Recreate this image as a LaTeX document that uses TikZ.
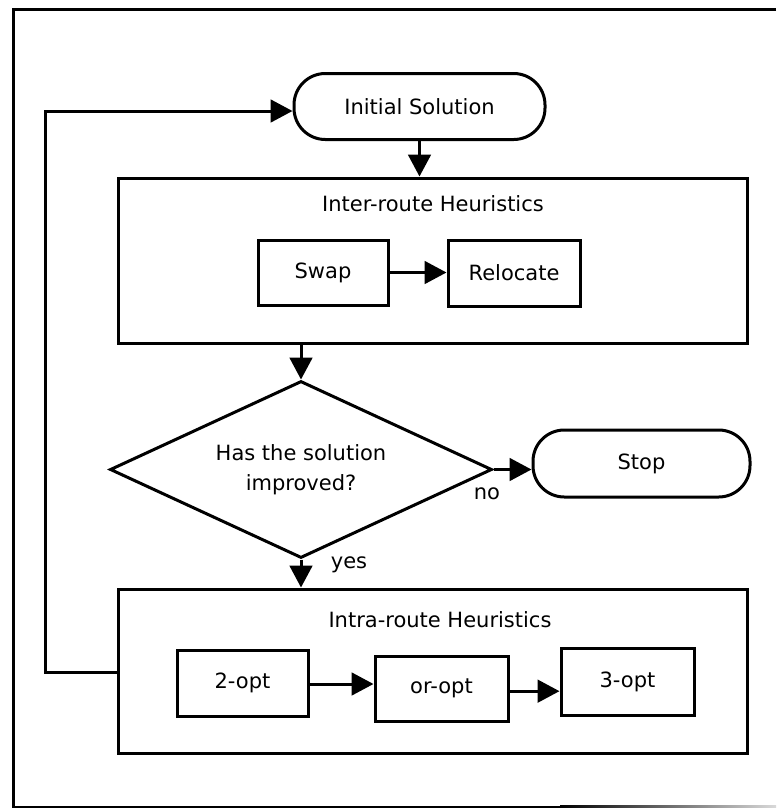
\documentclass[tikz,border=0pt]{standalone}
\usepackage{fontspec}
\setmainfont{DejaVu Sans}
\usetikzlibrary{shapes.geometric,arrows.meta}
\begin{document}
\begin{tikzpicture}[x=0.75pt,y=-0.75pt,
  line width=2.25pt,
  every node/.style={font=\fontsize{15.75pt}{22pt}\selectfont, inner sep=0pt},
  box/.style={draw, rectangle, minimum width=#1},
  term/.style={draw, rectangle, rounded corners=23.5pt, minimum width=#1, minimum height=49.5pt},
  decision/.style={draw, diamond, aspect=2.16, minimum width=286.5pt, minimum height=132.75pt, align=center,
                   font=\fontsize{15.75pt}{22.5pt}\selectfont},
  flow/.style={-{Triangle[length=16.5pt,width=17pt]}},
  caption/.style={anchor=center}]
\useasboundingbox (0,0) rectangle (776,808);

% page frame (right side open, bottom edge fading out)
\draw[line width=2.25pt] (776,9.5) -- (13.5,9.5) -- (13.5,807) -- (560,807);
\shade[left color=black, right color=black!15] (560,805.5) rectangle (776,808.5);

% start / stop terminals
\node[term=188.25pt] (init) at (419.5,106.5) {Initial Solution};
\node[term=162.75pt, minimum height=50.25pt] (stop) at (641.5,463.5) {Stop};

% inter-route block
\node[box=471.75pt, minimum height=123.75pt] (inter) at (432.5,260.5) {};
\node[caption] (intertitle) at (433,204) {Inter-route Heuristics};
\node[box=97.5pt, minimum height=48.75pt] (swap) at (323,272.5) {Swap};
\node[box=99pt, minimum height=49.5pt] (reloc) at (514,273) {Relocate};

% decision
\node[decision] (dia) at (301,469.5) {Has the solution\\improved?};

% intra-route block
\node[box=471.75pt, minimum height=123pt] (intra) at (432.5,671) {};
\node[caption] (intratitle) at (440,620) {Intra-route Heuristics};
\node[box=98.25pt, minimum height=49.5pt] (two) at (242.5,683) {2-opt};
\node[box=99.75pt, minimum height=48.75pt] (oropt) at (441.5,688.5) {or-opt};
\node[box=99.75pt, minimum height=50.25pt] (three) at (627.5,681.5) {3-opt};

% connectors
\draw[flow] (init.south) -- (init.south |- inter.north);
\draw[flow] (swap.east) -- (reloc.west |- swap.east);
\draw[flow] (dia.north |- inter.south) -- (dia.north);
\draw[flow] (dia.east) -- (stop.west |- dia.east);
\draw[flow] (dia.south) -- (dia.south |- intra.north);
\draw[flow] ([yshift=-0.75pt]two.east) -- ([yshift=-0.75pt]two.east -| oropt.west);
\draw[flow] ([yshift=-2pt]oropt.east) -- ([yshift=-2pt]oropt.east -| three.west);

\coordinate (fbl) at (45,672);
\coordinate (fbu) at (45,111);
\draw[flow] (intra.west |- fbl) -- (fbl) -- (fbu) -- (fbu -| init.west);

% branch labels
\node (nolbl) at (487,494) {no};
\node (yeslbl) at (349,565) {yes};
\end{tikzpicture}
\end{document}
